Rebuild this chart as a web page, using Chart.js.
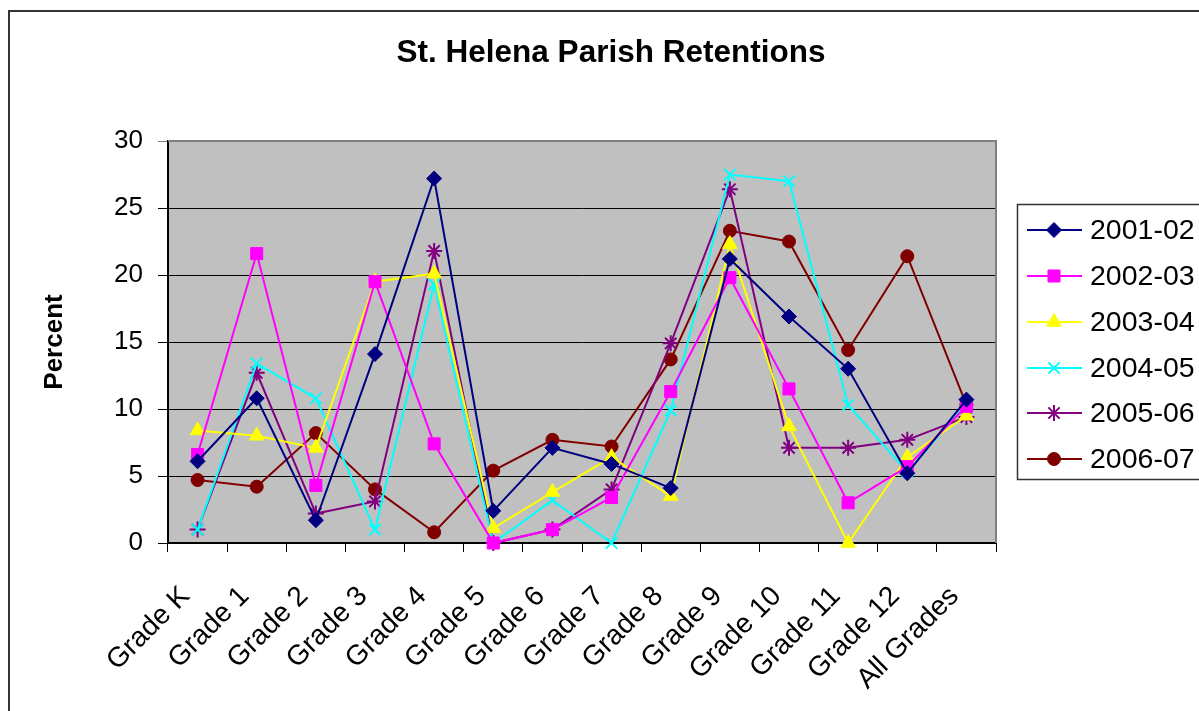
<!DOCTYPE html>
<html>
<head>
<meta charset="utf-8">
<title>St. Helena Parish Retentions</title>
<script src="https://cdn.jsdelivr.net/npm/chart.js@4/dist/chart.umd.min.js"></script>
<style>
    html, body { margin: 0; padding: 0; background: #ffffff; }
    #chart { display: block; }
</style>
</head>
<body>
<canvas id="chart" width="1199" height="711"></canvas>
<script>
const categories = ['Grade K', 'Grade 1', 'Grade 2', 'Grade 3', 'Grade 4', 'Grade 5', 'Grade 6',
    'Grade 7', 'Grade 8', 'Grade 9', 'Grade 10', 'Grade 11', 'Grade 12', 'All Grades'];

const years = ['2001-02', '2002-03', '2003-04', '2004-05', '2005-06', '2006-07'];

const values2001 = [6.1, 10.8, 1.7, 14.1, 27.2, 2.4, 7.1, 5.9, 4.1, 21.2, 16.9, 13.0, 5.2, 10.7];
const values2002 = [6.6, 21.6, 4.3, 19.5, 7.4, 0, 1.0, 3.4, 11.3, 19.8, 11.5, 3.0, 5.7, 10.2];
const values2003 = [8.4, 8.0, 7.1, 19.5, 20.1, 1.1, 3.8, 6.4, 3.5, 22.3, 8.7, 0, 6.4, 9.5];
const values2004 = [1.0, 13.4, 10.8, 1.0, 19.3, 0, 3.2, 0, 9.9, 27.5, 27.0, 10.3, 5.3, 10.4];
const values2005 = [1.0, 12.7, 2.2, 3.1, 21.8, 0, 1.0, 4.0, 14.9, 26.4, 7.1, 7.1, 7.7, 9.4];
const values2006 = [4.7, 4.2, 8.2, 4.0, 0.8, 5.4, 7.7, 7.2, 13.7, 23.3, 22.5, 14.4, 21.4, 10.3];

const yTicks = [0, 5, 10, 15, 20, 25, 30];

const FONT = "'Liberation Sans', Arial, sans-serif";

const seriesStyles = [
    { color: '#000080', pointStyle: 'rectRot', radius: 7.5 },
    { color: '#FF00FF', pointStyle: 'rect', radius: 8.5 },
    { color: '#FFFF00', pointStyle: 'triangle', radius: 8.5 },
    { color: '#00FFFF', pointStyle: 'crossRot', radius: 8 },
    { color: '#800080', pointStyle: 'star', radius: 8 },
    { color: '#800000', pointStyle: 'circle', radius: 6.5 }
];

const allValues = [values2001, values2002, values2003, values2004, values2005, values2006];

const datasets = years.map((year, i) => {
    const style = seriesStyles[i];
    const filled = style.pointStyle !== 'crossRot' && style.pointStyle !== 'star';
    return {
        label: year,
        data: allValues[i],
        borderColor: style.color,
        backgroundColor: style.color,
        borderWidth: 2,
        pointStyle: style.pointStyle,
        pointRadius: style.radius,
        pointBackgroundColor: style.color,
        pointBorderColor: style.color,
        pointBorderWidth: filled ? 1 : 2,
        tension: 0,
        clip: false
    };
});

const frame = {
    id: 'frame',
    beforeDraw(chart) {
        const { ctx, chartArea } = chart;
        ctx.save();
        ctx.fillStyle = '#C0C0C0';
        ctx.fillRect(chartArea.left, chartArea.top,
            chartArea.right - chartArea.left, chartArea.bottom - chartArea.top);
        ctx.restore();
    },
    afterDatasetsDraw(chart) {
        const { ctx, chartArea } = chart;
        ctx.save();
        ctx.strokeStyle = '#808080';
        ctx.lineWidth = 2;
        ctx.beginPath();
        ctx.moveTo(chartArea.left, chartArea.top);
        ctx.lineTo(chartArea.right, chartArea.top);
        ctx.lineTo(chartArea.right, chartArea.bottom);
        ctx.stroke();
        ctx.restore();
    },
    afterDraw(chart) {
        const ctx = chart.ctx;
        ctx.save();

        // outer border
        ctx.strokeStyle = '#333333';
        ctx.lineWidth = 2;
        ctx.strokeRect(9, 11, 1220, 720);

        // title
        ctx.fillStyle = '#000000';
        ctx.font = `bold 31.5px ${FONT}`;
        ctx.textAlign = 'center';
        ctx.textBaseline = 'middle';
        ctx.fillText('St. Helena Parish Retentions', 611, 53);

        // legend
        ctx.strokeStyle = '#333333';
        ctx.lineWidth = 1.5;
        ctx.strokeRect(1017.5, 204.5, 200, 275);

        const rows = [230, 276, 322, 368, 413, 459];
        ctx.font = `28.5px ${FONT}`;
        ctx.textAlign = 'left';
        ctx.textBaseline = 'middle';
        chart.data.datasets.forEach((ds, i) => {
            const y = rows[i];
            ctx.strokeStyle = ds.borderColor;
            ctx.lineWidth = 2;
            ctx.beginPath();
            ctx.moveTo(1027, y);
            ctx.lineTo(1082, y);
            ctx.stroke();

            ctx.fillStyle = ds.pointBackgroundColor;
            ctx.strokeStyle = ds.pointBorderColor;
            ctx.lineWidth = ds.pointBorderWidth;
            Chart.helpers.drawPoint(ctx, {
                pointStyle: ds.pointStyle,
                radius: ds.pointRadius,
                rotation: 0,
                borderWidth: ds.pointBorderWidth
            }, 1054, y);

            ctx.fillStyle = '#000000';
            ctx.fillText(ds.label, 1090, y + 1);
        });

        ctx.restore();
    }
};

new Chart(document.getElementById('chart'), {
    type: 'line',
    data: {
        labels: categories,
        datasets: datasets
    },
    options: {
        responsive: false,
        animation: false,
        layout: {
            padding: { left: 0, top: 141, right: 203, bottom: 0 }
        },
        plugins: {
            legend: { display: false },
            title: { display: false },
            tooltip: { enabled: false }
        },
        scales: {
            x: {
                offset: true,
                afterFit: (scale) => { scale.height = 168; },
                border: { display: true, color: '#000000', width: 2 },
                grid: {
                    offset: true,
                    drawOnChartArea: false,
                    drawTicks: true,
                    tickLength: 9,
                    color: '#000000',
                    lineWidth: 1
                },
                ticks: {
                    autoSkip: false,
                    minRotation: 45,
                    maxRotation: 45,
                    padding: 28,
                    labelOffset: -12,
                    color: '#000000',
                    font: { family: FONT, size: 28 }
                }
            },
            y: {
                min: 0,
                max: 30,
                afterFit: (scale) => { scale.width = 168; },
                afterBuildTicks: (scale) => {
                    scale.ticks = yTicks.map(v => ({ value: v }));
                },
                border: { display: true, color: '#000000', width: 2 },
                grid: {
                    drawTicks: true,
                    tickLength: 10,
                    color: (c) => (c.tick && c.tick.value === 30 ? '#808080' : '#000000'),
                    lineWidth: 1
                },
                ticks: {
                    padding: 15,
                    color: '#000000',
                    font: { family: FONT, size: 26 }
                },
                title: {
                    display: true,
                    text: 'Percent',
                    color: '#000000',
                    padding: { top: 39, bottom: 0 },
                    font: { family: FONT, size: 26, weight: 'bold' }
                }
            }
        }
    },
    plugins: [frame]
});
</script>
</body>
</html>
